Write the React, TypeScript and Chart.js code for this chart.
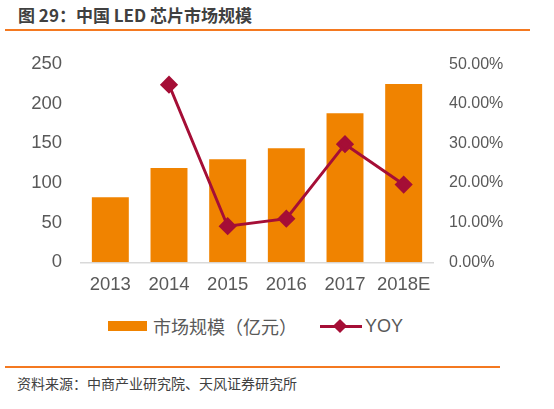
import { useEffect, useRef } from "react";
import { Chart, registerables } from "chart.js";

Chart.register(...registerables);

const years = ["2013", "2014", "2015", "2016", "2017", "2018E"];
const marketSize = [82, 119, 130, 144, 188, 225]; // 亿元
const yoy = [null, 0.448, 0.091, 0.110, 0.298, 0.196];

const BAR_COLOR = "#F08300";
const LINE_COLOR = "#A50E36";
const TICK_COLOR = "#595959";
const LATIN = "'Liberation Sans', Arial, sans-serif";
const CJK = "'Noto Sans CJK SC', 'Liberation Sans', sans-serif";

const App = () => {
  const chartRef = useRef<HTMLCanvasElement | null>(null);

  useEffect(() => {
    if (!chartRef.current) return;
    const ctx = chartRef.current.getContext("2d");
    if (!ctx) return;

    const chartInstance = new Chart(ctx, {
      type: "bar",
      data: {
        labels: years,
        datasets: [
          {
            type: "line",
            label: "YOY",
            data: yoy,
            yAxisID: "y1",
            borderColor: LINE_COLOR,
            backgroundColor: LINE_COLOR,
            borderWidth: 3,
            pointStyle: "rectRot",
            pointRadius: 7,
            pointHoverRadius: 7,
            spanGaps: false,
            order: 0,
          },
          {
            type: "bar",
            label: "市场规模（亿元）",
            data: marketSize,
            yAxisID: "y",
            backgroundColor: BAR_COLOR,
            categoryPercentage: 1,
            barPercentage: 0.63,
            order: 1,
          },
        ],
      },
      options: {
        animation: false,
        responsive: false,
        maintainAspectRatio: false,
        layout: { padding: { top: 17.5, bottom: 0, left: 0, right: 0 } },
        plugins: {
          legend: { display: false },
          tooltip: { enabled: false },
        },
        scales: {
          x: {
            grid: { display: false, drawTicks: false },
            border: { display: true, color: "#D9D9D9", width: 1.5 },
            ticks: {
              color: TICK_COLOR,
              font: { family: LATIN, size: 18.5 },
              padding: 12,
              maxRotation: 0,
            },
            afterFit: (scale) => {
              scale.height = 37.7;
            },
          },
          y: {
            position: "left",
            min: 0,
            max: 250,
            grid: { display: false, drawTicks: false },
            border: { display: false },
            ticks: {
              stepSize: 50,
              color: TICK_COLOR,
              font: { family: LATIN, size: 18.5 },
              padding: 19,
            },
            afterFit: (scale) => {
              scale.width = 81;
            },
          },
          y1: {
            position: "right",
            min: 0,
            max: 0.5,
            grid: { display: false, drawTicks: false },
            border: { display: false },
            ticks: {
              stepSize: 0.1,
              color: TICK_COLOR,
              font: { family: LATIN, size: 16 },
              padding: 16,
              callback: (v) => (Number(v) * 100).toFixed(2) + "%",
            },
            afterFit: (scale) => {
              scale.width = 121;
            },
          },
        },
      },
    });

    return () => {
      chartInstance.destroy();
    };
  }, []);

  return (
    <div
      style={{
        position: "fixed",
        left: 0,
        top: 0,
        width: 554,
        height: 409,
        background: "#fff",
        overflow: "hidden",
      }}
    >
      <div
        style={{
          position: "absolute",
          left: 18,
          top: 4,
          fontFamily: CJK,
          fontWeight: "bold",
          fontSize: 17,
          lineHeight: "22px",
          color: "#404040",
          whiteSpace: "nowrap",
        }}
      >
        图 29：中国 LED 芯片市场规模
      </div>
      <div
        style={{
          position: "absolute",
          left: 5,
          top: 29,
          width: 525,
          height: 2,
          background: "#F47920",
        }}
      />
      <canvas
        ref={chartRef}
        width={554}
        height={266}
        style={{ position: "absolute", left: 0, top: 34, width: 554, height: 266 }}
      ></canvas>
      <div
        style={{
          position: "absolute",
          left: 108,
          top: 321,
          width: 39,
          height: 10,
          background: BAR_COLOR,
        }}
      />
      <div
        style={{
          position: "absolute",
          left: 153,
          top: 313,
          fontFamily: CJK,
          fontSize: 18,
          lineHeight: "26px",
          color: TICK_COLOR,
          whiteSpace: "nowrap",
        }}
      >
        市场规模（亿元）
      </div>
      <div
        style={{
          position: "absolute",
          left: 320,
          top: 325,
          width: 42,
          height: 3,
          background: LINE_COLOR,
        }}
      />
      <div
        style={{
          position: "absolute",
          left: 335,
          top: 321,
          width: 10,
          height: 10,
          background: LINE_COLOR,
          transform: "rotate(45deg)",
        }}
      />
      <div
        style={{
          position: "absolute",
          left: 365,
          top: 314,
          fontFamily: LATIN,
          fontSize: 18,
          lineHeight: "24px",
          color: TICK_COLOR,
          whiteSpace: "nowrap",
        }}
      >
        YOY
      </div>
      <div
        style={{
          position: "absolute",
          left: 5,
          top: 366,
          width: 495,
          height: 2,
          background: "#F47920",
        }}
      />
      <div
        style={{
          position: "absolute",
          left: 17,
          top: 374,
          fontFamily: CJK,
          fontSize: 14,
          lineHeight: "18px",
          color: "#404040",
          whiteSpace: "nowrap",
        }}
      >
        资料来源：中商产业研究院、天风证券研究所
      </div>
    </div>
  );
};

export default App;
